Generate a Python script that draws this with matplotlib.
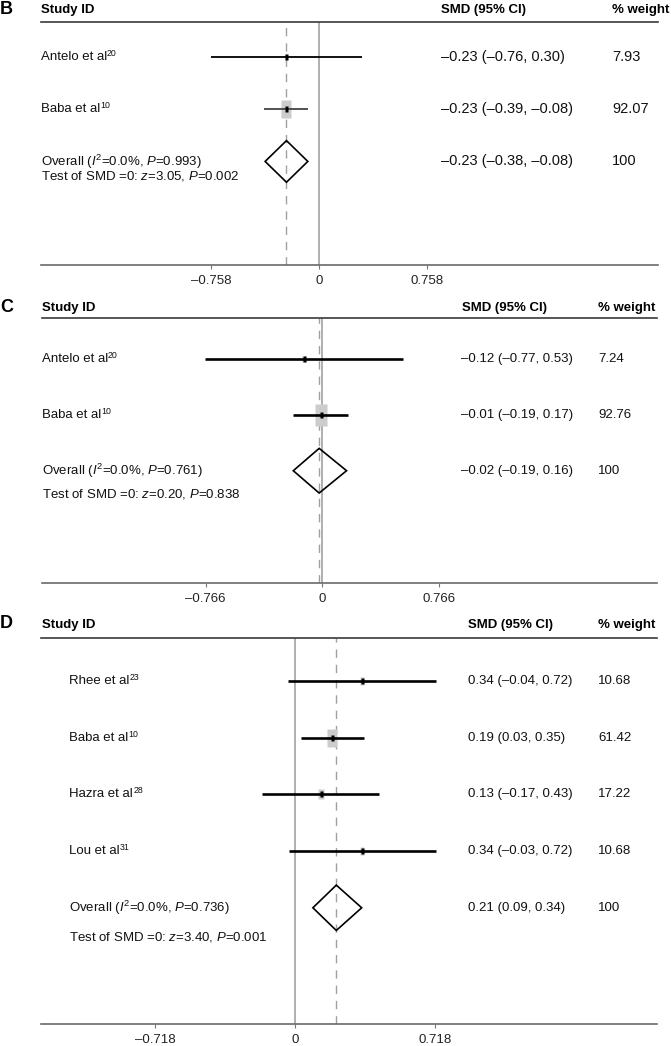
import numpy as np
import matplotlib
matplotlib.use("Agg")
import matplotlib.pyplot as plt
from matplotlib.path import Path
from matplotlib.transforms import blended_transform_factory

plt.rcParams['font.family'] = ['Liberation Sans', 'DejaVu Sans']
plt.rcParams['mathtext.fontset'] = 'custom'
plt.rcParams['mathtext.rm'] = 'Liberation Sans'
plt.rcParams['mathtext.it'] = 'Liberation Sans:italic'
plt.rcParams['mathtext.bf'] = 'Liberation Sans:bold'

# ---- data ----
b_studies = ['Antelo et al', 'Baba et al']
b_refs = ['20', '10']
b_smd = [-0.23, -0.23]
b_lo = [-0.76, -0.39]
b_hi = [0.30, -0.08]
b_weight = [7.93, 92.07]
b_pooled = [-0.23, -0.38, -0.08]
b_het = [0.0, 0.993]
b_test = [3.05, 0.002]
b_ticks = [-0.758, 0, 0.758]

c_studies = ['Antelo et al', 'Baba et al']
c_refs = ['20', '10']
c_smd = [-0.12, -0.01]
c_lo = [-0.77, -0.19]
c_hi = [0.53, 0.17]
c_weight = [7.24, 92.76]
c_pooled = [-0.02, -0.19, 0.16]
c_het = [0.0, 0.761]
c_test = [0.20, 0.838]
c_ticks = [-0.766, 0, 0.766]

d_studies = ['Rhee et al', 'Baba et al', 'Hazra et al', 'Lou et al']
d_refs = ['23', '10', '28', '31']
d_smd = [0.34, 0.19, 0.13, 0.34]
d_lo = [-0.04, 0.03, -0.17, -0.03]
d_hi = [0.72, 0.35, 0.43, 0.72]
d_weight = [10.68, 61.42, 17.22, 10.68]
d_pooled = [0.21, 0.09, 0.34]
d_het = [0.0, 0.736]
d_test = [3.40, 0.001]
d_ticks = [-0.718, 0, 0.718]

W, H = 671, 1046
TXT = '#111111'


def fmt(v):
    return f"{v:.2f}".replace('-', '\u2013')


def fmt_tick(v):
    if v == 0:
        return '0'
    return f"{v:.3f}".replace('-', '\u2013')


def box_marker(ratio):
    verts = [(-ratio, -1), (ratio, -1), (ratio, 1), (-ratio, 1), (-ratio, -1)]
    return Path(verts, [Path.MOVETO] + [Path.LINETO] * 3 + [Path.CLOSEPOLY])


fig = plt.figure(figsize=(W / 100, H / 100), dpi=100)


def panel(label, studies, refs, smd, lo, hi, weight, pooled, het, test, ticks,
          lay):
    left, right = lay['left'], lay['right']
    top, bottom = lay['line'], lay['axis']
    ax = fig.add_axes([left / W, 1 - bottom / H, (right - left) / W, (bottom - top) / H])
    ax.set_xlim(lay['xlim'])
    ax.set_ylim(lay['ylim'])
    for s in ['left', 'right']:
        ax.spines[s].set_visible(False)
    ax.spines['top'].set_color('#3a3a3a')
    ax.spines['top'].set_linewidth(1.2)
    ax.spines['bottom'].set_color('#6a6a6a')
    ax.spines['bottom'].set_linewidth(1.2)
    ax.set_yticks([])
    ax.set_xticks(ticks)
    ax.set_xticklabels([fmt_tick(t) for t in ticks])
    ax.tick_params(axis='x', length=3, width=0.8, color='#777777', pad=4,
                   labelsize=9.5, labelcolor='#222222')

    n = len(studies)
    rows = np.arange(n)
    orow = n

    ax.axvline(0, color='#9a9a9a', lw=1.1, zorder=1)
    ax.axvline(pooled[0], color='#a0a0a0', lw=1.0, ls=(0, (6, 5)), zorder=1)

    # weight boxes
    for r, x, w in zip(rows, smd, weight):
        hpx = lay['box'] * np.sqrt(w)
        ax.plot(x, r, marker=box_marker(0.57), ms=hpx * 0.72, mfc='#cccccc',
                mec='none', ls='none', zorder=2)
    ax.hlines(rows, lo, hi, colors=lay['ci_color'], lw=lay['ci_lw'], zorder=3)
    ax.plot(smd, rows, marker=box_marker(0.5), ms=6 * 0.72, mfc='black',
            mec='none', ls='none', zorder=4)

    hh = 0.4
    est, plo, phi = pooled
    ax.fill([plo, est, phi, est, plo], [orow, orow - hh, orow, orow + hh, orow],
            facecolor='none', edgecolor='black', lw=1.2, zorder=4)

    tr = blended_transform_factory(fig.transFigure, ax.transData)
    fs = 9.5
    for r, s, ref in zip(rows, studies, refs):
        t = ax.text(lay['name_x'] / W, r, s, transform=tr,
                    fontsize=fs, va='center', ha='left', color=TXT)
        ax.annotate(ref, xy=(1, 0.8), xycoords=t, xytext=(0.1, 0),
                    textcoords='offset points', fontsize=6.3, va='center',
                    ha='left', color=TXT)
    ax.text(lay['name_x'] / W, orow,
            'Overall ($I^{2}$=' + f"{het[0]:.1f}" + '%, $P$=' + f"{het[1]:.3f}" + ')',
            transform=tr, fontsize=fs, va='center', ha='left', color=TXT)
    ax.text(lay['name_x'] / W, orow + lay['test_off'],
            'Test of SMD =0: $z$=' + f"{test[0]:.2f}" + ', $P$=' + f"{test[1]:.3f}",
            transform=tr, fontsize=fs, va='center', ha='left', color=TXT)

    dfs = lay['data_fs']
    for r, x, l, h, w in zip(rows, smd, lo, hi, weight):
        ax.text(lay['smd_x'] / W, r, f"{fmt(x)} ({fmt(l)}, {fmt(h)})", transform=tr,
                fontsize=dfs, va='center', ha='left', color=TXT)
        ax.text(lay['w_x'] / W, r, f"{w:.2f}", transform=tr,
                fontsize=dfs, va='center', ha='left', color=TXT)
    ax.text(lay['smd_x'] / W, orow, f"{fmt(est)} ({fmt(plo)}, {fmt(phi)})", transform=tr,
            fontsize=dfs, va='center', ha='left', color=TXT)
    ax.text(lay['w_x'] / W, orow, f"{sum(weight):.0f}", transform=tr,
            fontsize=dfs, va='center', ha='left', color=TXT)

    hy = 1 - lay['head_y'] / H
    fig.text(lay['id_x'] / W, hy, 'Study ID', fontsize=9.5, fontweight='bold', va='center')
    fig.text(lay['smd_h'] / W, hy, 'SMD (95% CI)', fontsize=9.5, fontweight='bold', va='center')
    fig.text(lay['w_h'] / W, hy, '% weight', fontsize=9.5, fontweight='bold', va='center')
    fig.text(0.0, 1 - lay['lab_y'] / H, label, fontsize=13, fontweight='bold', va='center')
    return ax


lay_b = dict(left=40.6, right=657.7, line=22, axis=265, xlim=(-1.958, 2.379),
             ylim=(3.99, -0.679), box=1.85, ci_color=['black', '#444444'], ci_lw=1.3,
             name_x=40.6, id_x=40.6, smd_x=440.7, w_x=611.9, smd_h=440.7, w_h=612,
             head_y=10, lab_y=9, test_off=0.28, data_fs=10.5)
lay_c = dict(left=41.5, right=656.8, line=318.3, axis=583.3, xlim=(-1.844, 2.198),
             ylim=(4.016, -0.729), box=2.3, ci_color='black', ci_lw=1.9,
             name_x=41.5, id_x=41.5, smd_x=461.3, w_x=598.2, smd_h=462, w_h=598,
             head_y=308.3, lab_y=307, test_off=0.42, data_fs=9.5)
lay_d = dict(left=40.6, right=656.8, line=638.3, axis=1024.3, xlim=(-1.305, 1.852),
             ylim=(6.055, -0.753), box=2.4, ci_color='black', ci_lw=1.9,
             name_x=69.3, id_x=42.4, smd_x=468.5, w_x=598.2, smd_h=468.5, w_h=598,
             head_y=625, lab_y=623, test_off=0.52, data_fs=9.5)

panel('B', b_studies, b_refs, b_smd, b_lo, b_hi, b_weight, b_pooled, b_het, b_test, b_ticks, lay_b)
panel('C', c_studies, c_refs, c_smd, c_lo, c_hi, c_weight, c_pooled, c_het, c_test, c_ticks, lay_c)
panel('D', d_studies, d_refs, d_smd, d_lo, d_hi, d_weight, d_pooled, d_het, d_test, d_ticks, lay_d)

fig.savefig('out.png', dpi=100)
